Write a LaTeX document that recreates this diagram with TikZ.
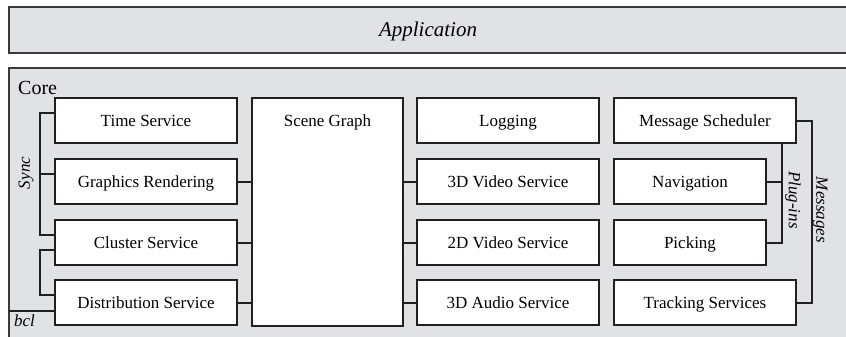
\documentclass[tikz,border=0pt]{standalone}
\usepackage{fontspec}
\setmainfont{Liberation Serif}
\definecolor{ink}{HTML}{231F20}
\definecolor{panel}{HTML}{E1E2E4}
\definecolor{frameline}{HTML}{3A3A3C}
\begin{document}
\begin{tikzpicture}[x=1pt,y=-1pt,
  box/.style={draw=ink, fill=white, line width=2pt, minimum height=45pt,
    minimum width=182pt, inner sep=0pt, text height=12pt, text depth=0.5pt,
    font=\fontsize{17}{20}\selectfont},
  link/.style={draw=ink, line width=2pt},
  frame/.style={draw=frameline, line width=2pt},
  tag/.style={font=\fontsize{17}{20}\selectfont\itshape, inner sep=0pt}]
\useasboundingbox (0,0) rectangle (846,337);

% application layer
\fill[panel] (9,7) rectangle (846,53);
\draw[frame] (846,7) -- (9,7) -- (9,53) -- (846,53);
\node[font=\fontsize{21}{25}\selectfont\itshape, inner sep=0pt] (app) at (428,31) {Application};

% core panel
\fill[panel] (9,68) rectangle (846,337);
\draw[frame] (846,68) -- (9,68) -- (9,337);
\node[anchor=west, font=\fontsize{20}{24}\selectfont, inner sep=0pt] (core) at (18,88) {Core};

% left column
\node[box] (ts) at (146,120.5) {Time Service};
\node[box] (gr) at (146,181.5) {Graphics Rendering};
\node[box] (cs) at (146,242.5) {Cluster Service};
\node[box] (ds) at (146,302.5) {Distribution Service};

% scene graph
\node[box, minimum width=151pt, minimum height=228pt] (sg) at (327.5,212) {};
\node[font=\fontsize{17}{20}\selectfont, inner sep=0pt, text height=12pt, text depth=0.5pt] (sgt) at (327.5,121) {Scene Graph};

% middle column
\node[box] (lg) at (508,120.5) {Logging};
\node[box] (v3) at (508,181.5) {3D Video Service};
\node[box] (v2) at (508,242.5) {2D Video Service};
\node[box] (au) at (508,302.5) {3D Audio Service};

% right column
\node[box] (ms) at (705,120.5) {Message Scheduler};
\node[box, minimum width=152pt] (nv) at (690,181.5) {Navigation};
\node[box, minimum width=152pt] (pk) at (690,242.5) {Picking};
\node[box] (tr) at (705,302.5) {Tracking Services};

% links to the scene graph
\foreach \n in {gr,cs,ds} \draw[link] (\n.east) -- (sg.west |- \n.east);
\foreach \n in {v3,v2,au} \draw[link] (\n.west) -- (sg.east |- \n.west);

% sync bracket
\draw[link] ([yshift=7.5pt]ts.west) -- ++(-14,0) |- ([yshift=7.5pt]cs.west);
\draw[link] ([yshift=7.5pt]gr.west) -- ++(-14,0);
\node[tag, rotate=90] (sync) at (26,173) {Sync};

% bcl bracket
\draw[link] ([yshift=-7.5pt]cs.west) -- ++(-14,0) |- ([yshift=7.5pt]ds.west);
\coordinate (bclL) at (9,311);
\draw[link] (bclL) -- (ds.west |- bclL);
\node[tag, anchor=west] (bcl) at (14,321) {bcl};

% plug-ins bracket
\draw[link] ([xshift=-15pt]ms.south east) |- (pk.east);
\draw[link] (nv.east) -- ++(15,0);
\node[tag, rotate=-90] (plug) at (793,200) {Plug-ins};

% messages bracket
\draw[link] (ms.east) -- ++(15,0) |- (tr.east);
\node[tag, rotate=-90] (msg) at (820,210) {Messages};
\end{tikzpicture}
\end{document}
